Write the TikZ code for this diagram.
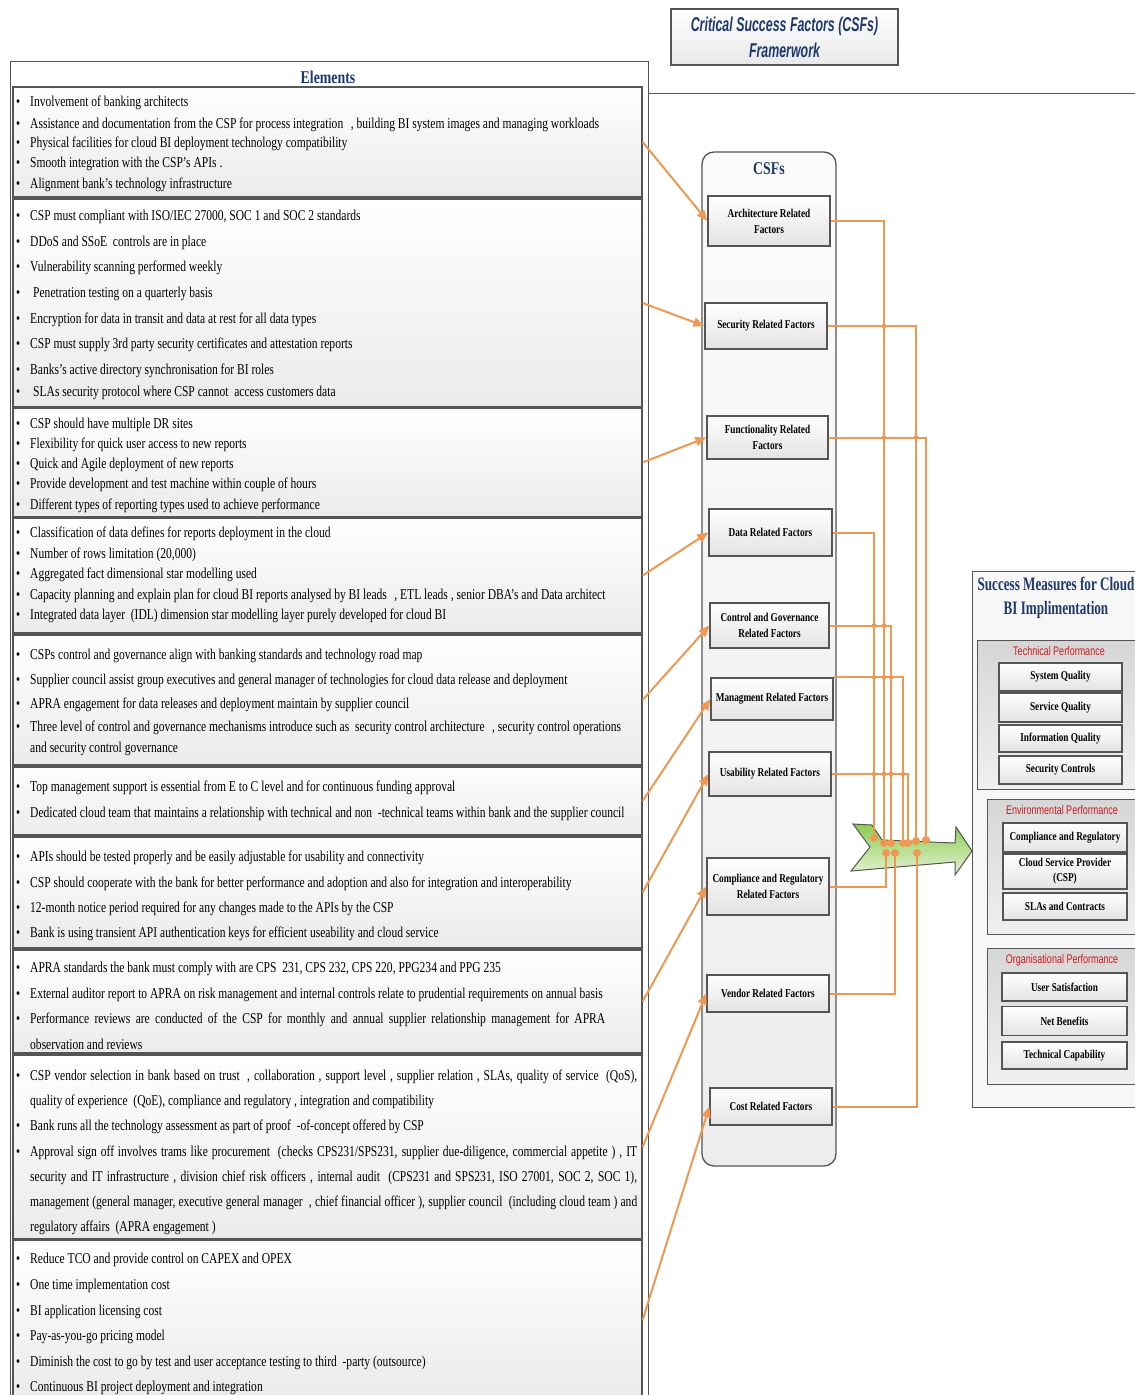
\documentclass[tikz,border=0pt]{standalone}
\usepackage{fontspec}
\usetikzlibrary{arrows.meta}
\newfontfamily\elemfont[FakeStretch=0.77]{Liberation Serif}
\newfontfamily\measfont[FakeStretch=0.69]{Liberation Serif}
\newfontfamily\titlefont[FakeStretch=0.62]{Liberation Sans}
\newfontfamily\redfont[FakeStretch=0.72]{Liberation Sans}
\definecolor{ornj}{RGB}{240,152,82}
\definecolor{navy}{RGB}{31,56,110}
\definecolor{redlab}{RGB}{204,25,30}
\definecolor{edge}{RGB}{85,85,85}
\definecolor{greentop}{RGB}{140,204,80}
\definecolor{greenbot}{RGB}{228,242,212}
\newcommand\bul{\makebox[14pt][l]{\textbullet}}

\begin{document}
\begin{tikzpicture}[x=1pt,y=-1pt,
      panel/.style={draw=edge,line width=1.2pt,top color=white,bottom color=gray!16,
        minimum width=629pt,inner sep=0pt},
      item/.style={anchor=west,inner sep=0pt,yshift=-1.5pt,font=\elemfont\fontsize{15}{18}\selectfont},
      head/.style={text=navy,inner sep=0pt,font=\elemfont\bfseries\fontsize{18}{24}\selectfont},
      factor/.style={draw=edge,line width=1.2pt,top color=white,bottom color=gray!22,
        align=center,inner sep=1pt,font=\elemfont\bfseries\fontsize{12}{16}\selectfont},
      measure/.style={factor,minimum width=123pt,font=\elemfont\bfseries\fontsize{12}{15}\selectfont},
      group/.style={draw=edge,line width=1pt,top color=gray!32,bottom color=gray!12,inner sep=0pt},
      grouplab/.style={text=redlab,inner sep=0pt,font=\redfont\fontsize{12.5}{14}\selectfont},
      link/.style={draw=ornj,line width=2pt},
      feed/.style={link,-{Triangle[length=11pt,width=9pt]}}]

    \useasboundingbox (0,0) rectangle (1135,1395);
    \clip (0,0) rectangle (1135,1395);

    % Title
    \node[draw=edge,line width=1.2pt,top color=white,bottom color=gray!18,
      minimum width=227pt,minimum height=56pt,align=center,text=navy,
      font=\titlefont\bfseries\itshape\fontsize{20}{26}\selectfont]
      (title) at (784.5,37) {Critical Success Factors (CSFs)\\Framerwork};

    % Left: elements
    \node[draw=edge,line width=1pt,minimum width=638pt,minimum height=1339pt,inner sep=0pt]
      (elem) at (329,730.5) {};
    \node[head] (elemhead) at (328,77) {Elements};
    \coordinate (rim) at (1140,93);
    \draw[edge,line width=1pt] (elem.east |- rim) -- (rim);

    \node[panel,minimum height=110pt] (parch) at (327.5,142) {};
    \node[panel,minimum height=208pt] (psec) at (327.5,303) {};
    \node[panel,minimum height=109pt] (pfunc) at (327.5,462.5) {};
    \node[panel,minimum height=115pt] (pdata) at (327.5,575.5) {};
    \node[panel,minimum height=130pt] (pctrl) at (327.5,700) {};
    \node[panel,minimum height=68pt] (pmgmt) at (327.5,801) {};
    \node[panel,minimum height=111pt] (pusab) at (327.5,892.5) {};
    \node[panel,minimum height=103pt] (pcomp) at (327.5,1001.5) {};
    \node[panel,minimum height=184pt] (pvend) at (327.5,1147) {};
    \node[panel,minimum height=160pt] (pcost) at (327.5,1320) {};

    \node[item] (ar1) at (16,101) {\bul Involvement of banking architects};
    \node[item] (ar2) at (16,123) {\bul Assistance and documentation from the CSP for process integration\enspace, building BI system images and managing workloads};
    \node[item] (ar3) at (16,142) {\bul Physical facilities for cloud BI deployment technology compatibility};
    \node[item] (ar4) at (16,162) {\bul Smooth integration with the CSP’s APIs .};
    \node[item] (ar5) at (16,183) {\bul Alignment bank’s technology infrastructure};

    \node[item] (se1) at (16,215) {\bul CSP must compliant with ISO/IEC 27000, SOC 1 and SOC 2 standards};
    \node[item] (se2) at (16,241) {\bul DDoS and SSoE\ \ controls are in place};
    \node[item] (se3) at (16,266) {\bul Vulnerability scanning performed weekly};
    \node[item] (se4) at (16,292) {\bul\hspace{3pt}Penetration testing on a quarterly basis};
    \node[item] (se5) at (16,318) {\bul Encryption for data in transit and data at rest for all data types};
    \node[item] (se6) at (16,343) {\bul CSP must supply 3rd party security certificates and attestation reports};
    \node[item] (se7) at (16,369) {\bul Banks’s active directory synchronisation for BI roles};
    \node[item] (se8) at (16,391) {\bul\hspace{3pt}SLAs security protocol where CSP cannot\ \ access customers data};

    \node[item] (fu1) at (16,423) {\bul CSP should have multiple DR sites};
    \node[item] (fu2) at (16,443) {\bul Flexibility for quick user access to new reports};
    \node[item] (fu3) at (16,463) {\bul Quick and Agile deployment of new reports};
    \node[item] (fu4) at (16,483) {\bul Provide development and test machine within couple of hours};
    \node[item] (fu5) at (16,504) {\bul Different types of reporting types used to achieve performance};

    \node[item] (da1) at (16,532) {\bul Classification of data defines for reports deployment in the cloud};
    \node[item] (da2) at (16,553) {\bul Number of rows limitation (20,000)};
    \node[item] (da3) at (16,573) {\bul Aggregated fact dimensional star modelling used};
    \node[item] (da4) at (16,594) {\bul Capacity planning and explain plan for cloud BI reports analysed by BI leads\enspace, ETL leads , senior DBA’s and Data architect};
    \node[item] (da5) at (16,614) {\bul Integrated data layer\ \ (IDL) dimension star modelling layer purely developed for cloud BI};

    \node[item] (co1) at (16,654) {\bul CSPs control and governance align with banking standards and technology road map};
    \node[item] (co2) at (16,679) {\bul Supplier council assist group executives and general manager of technologies for cloud data release and deployment};
    \node[item] (co3) at (16,703) {\bul APRA engagement for data releases and deployment maintain by supplier council};
    \node[item] (co4) at (16,726) {\bul Three level of control and governance mechanisms introduce such as\ \ security control architecture\enspace, security control operations};
    \node[item] (co5) at (30,747) {and security control governance};

    \node[item] (ma1) at (16,786) {\bul Top management support is essential from E to C level and for continuous funding approval};
    \node[item] (ma2) at (16,812) {\bul Dedicated cloud team that maintains a relationship with technical and non\ \ -technical teams within bank and the supplier council};

    \node[item] (us1) at (16,856) {\bul APIs should be tested properly and be easily adjustable for usability and connectivity};
    \node[item] (us2) at (16,882) {\bul CSP should cooperate with the bank for better performance and adoption and also for integration and interoperability};
    \node[item] (us3) at (16,907) {\bul 12-month notice period required for any changes made to the APIs by the CSP};
    \node[item] (us4) at (16,932) {\bul Bank is using transient API authentication keys for efficient useability and cloud service};

    \node[item] (cr1) at (16,967) {\bul APRA standards the bank must comply with are CPS\ \ 231, CPS 232, CPS 220, PPG234 and PPG 235};
    \node[item] (cr2) at (16,993) {\bul External auditor report to APRA on risk management and internal controls relate to prudential requirements on annual basis};
    \node[item] (cr3) at (16,1018) {\bul\makebox[575pt][s]{Performance reviews are conducted of the CSP for monthly and annual supplier relationship management for APRA}};
    \node[item] (cr4) at (30,1043) {observation and reviews};

    \node[item] (ve1) at (16,1075) {\bul\makebox[607pt][s]{CSP vendor selection in bank based on trust\ \ , collaboration , support level , supplier relation , SLAs, quality of service\ \ (QoS),}};
    \node[item] (ve2) at (30,1100) {quality of experience\ \ (QoE), compliance and regulatory , integration and compatibility};
    \node[item] (ve3) at (16,1125) {\bul Bank runs all the technology assessment as part of proof\ \ -of-concept offered by CSP};
    \node[item] (ve4) at (16,1151) {\bul\makebox[607pt][s]{Approval sign off involves trams like procurement\ \ (checks CPS231/SPS231, supplier due-diligence, commercial appetite ) , IT}};
    \node[item] (ve5) at (30,1176) {\makebox[607pt][s]{security and IT infrastructure , division chief risk officers , internal audit\ \ (CPS231 and SPS231, ISO 27001, SOC 2, SOC 1),}};
    \node[item] (ve6) at (30,1201) {\makebox[607pt][s]{management (general manager, executive general manager\ \ , chief financial officer ), supplier council\ \ (including cloud team ) and}};
    \node[item] (ve7) at (30,1226) {regulatory affairs\ \ (APRA engagement )};

    \node[item] (cs1) at (16,1258) {\bul Reduce TCO and provide control on CAPEX and OPEX};
    \node[item] (cs2) at (16,1284) {\bul One time implementation cost};
    \node[item] (cs3) at (16,1310) {\bul BI application licensing cost};
    \node[item] (cs4) at (16,1335) {\bul Pay-as-you-go pricing model};
    \node[item] (cs5) at (16,1361) {\bul Diminish the cost to go by test and user acceptance testing to third\ \ -party (outsource)};
    \node[item] (cs6) at (16,1386) {\bul Continuous BI project deployment and integration};

    % Middle: CSFs
    \node[draw=edge,line width=1.3pt,rounded corners=12pt,top color=gray!3,bottom color=gray!14,
      minimum width=134pt,minimum height=1014pt] (csfs) at (769,659) {};
    \node[head] (csfhead) at (769,169) {CSFs};

    \node[factor,minimum width=122pt,minimum height=50pt] (arch) at (769,221) {Architecture Related\\Factors};
    \node[factor,minimum width=122pt,minimum height=46pt] (sec) at (766,326) {Security Related Factors};
    \node[factor,minimum width=121pt,minimum height=43pt] (func) at (767.5,437.5) {Functionality Related\\Factors};
    \node[factor,minimum width=123pt,minimum height=47pt] (data) at (770.5,532.5) {Data Related Factors};
    \node[factor,minimum width=119pt,minimum height=45pt] (ctrl) at (769.5,625.5) {Control and Governance\\Related Factors};
    \node[factor,minimum width=122pt,minimum height=42pt] (mgmt) at (772,699) {Managment Related Factors};
    \node[factor,minimum width=122pt,minimum height=44pt] (usab) at (770,774) {Usability Related Factors};
    \node[factor,minimum width=122pt,minimum height=57pt] (comp) at (768,886.5) {Compliance and Regulatory\\Related Factors};
    \node[factor,minimum width=122pt,minimum height=37pt] (vend) at (768,993.5) {Vendor Related Factors};
    \node[factor,minimum width=122pt,minimum height=37pt] (cost) at (771,1106.5) {Cost Related Factors};

    \draw[feed] (parch.east) -- (arch.west);
    \draw[feed] (psec.east) -- (sec.west);
    \draw[feed] (pfunc.east) -- (func.west);
    \draw[feed] (pdata.east) -- (data.west);
    \draw[feed] (pctrl.east) -- (ctrl.west);
    \draw[feed] (pmgmt.east) -- (mgmt.west);
    \draw[feed] (pusab.east) -- (usab.west);
    \draw[feed] (pcomp.east) -- (comp.west);
    \draw[feed] (pvend.east) -- (vend.west);
    \draw[feed] (pcost.east) -- (cost.west);

    % Green arrow
    \shadedraw[top color=greentop,bottom color=greenbot,draw=edge,line width=1pt]
      (853,824) -- (872,825) -- (882,840) -- (955,843) -- (956,827) -- (972,851)
      -- (955,875) -- (955,862) -- (851,871) -- (870,847) -- cycle;

    \coordinate (tD) at (874,838);
    \coordinate (tA) at (884,843);
    \coordinate (tC) at (891,843);
    \coordinate (tM) at (903,843);
    \coordinate (tU) at (908,843);
    \coordinate (tS) at (916,841);
    \coordinate (tF) at (926,840);
    \coordinate (tR) at (886,853);
    \coordinate (tV) at (895,853);
    \coordinate (tK) at (917,853);

    \draw[link] (arch.east) -| (tA);
    \draw[link] (sec.east) -| (tS);
    \draw[link] (func.east) -| (tF);
    \draw[link] (data.east) -| (tD);
    \draw[link] (ctrl.east) -| (tC);
    \draw[link] (mgmt.north east) -| (tM);
    \draw[link] (usab.east) -| (tU);
    \draw[link] (comp.east) -| (tR);
    \draw[link] (vend.east) -| (tV);
    \draw[link] (cost.east) -| (tK);

    % crossing dots
    \fill[ornj] (tA |- sec.east) circle (2.3pt);
    \foreach \v in {tA,tS} \fill[ornj] (\v |- func.east) circle (2.3pt);
    \foreach \v in {tD,tA} \fill[ornj] (\v |- ctrl.east) circle (2.3pt);
    \foreach \v in {tD,tA,tC} \fill[ornj] (\v |- mgmt.north east) circle (2.3pt);
    \foreach \v in {tD,tA,tC,tM} \fill[ornj] (\v |- usab.east) circle (2.3pt);
    \foreach \v in {tD,tA,tC,tM,tU,tS,tF,tR,tV,tK} \fill[ornj] (\v) circle (4pt);

    % Right: success measures
    \node[draw=edge,line width=1pt,fill=gray!6,minimum width=173pt,minimum height=536pt,inner sep=0pt]
      (meas) at (1058.5,839) {};
    \node[head,align=center,font=\measfont\bfseries\fontsize{19}{24}\selectfont]
      (meashead) at (1056,598) {Success Measures for Cloud\\BI Implimentation};

    \node[group,minimum width=168pt,minimum height=149pt] (tech) at (1061,714.5) {};
    \node[grouplab] (techlab) at (1059,651) {Technical Performance};
    \node[measure,minimum height=28pt] (sysq) at (1060.5,677) {System Quality};
    \node[measure,minimum height=29pt] (servq) at (1060.5,707.5) {Service Quality};
    \node[measure,minimum height=27pt] (infoq) at (1060.5,738.5) {Information Quality};
    \node[measure,minimum height=28pt] (secc) at (1060.5,770) {Security Controls};

    \node[group,minimum width=158pt,minimum height=135pt] (env) at (1066,866.5) {};
    \node[grouplab] (envlab) at (1062,810) {Environmental Performance};
    \node[measure,minimum width=124pt,minimum height=29pt] (compr) at (1065,837.5) {Compliance and Regulatory};
    \node[measure,minimum width=124pt,minimum height=35pt] (cspv) at (1065,871.5) {Cloud Service Provider\\(CSP)};
    \node[measure,minimum width=124pt,minimum height=27pt] (slas) at (1065,906.5) {SLAs and Contracts};

    \node[group,minimum width=158pt,minimum height=136pt] (org) at (1066,1016) {};
    \node[grouplab] (orglab) at (1062,960) {Organisational Performance};
    \node[measure,minimum width=125pt,minimum height=28pt] (usat) at (1064.5,987) {User Satisfaction};
    \node[measure,minimum width=125pt,minimum height=29pt] (netb) at (1064.5,1021) {Net Benefits};
    \node[measure,minimum width=125pt,minimum height=27pt] (tcap) at (1064.5,1055.5) {Technical Capability};
  \end{tikzpicture}
\end{document}
